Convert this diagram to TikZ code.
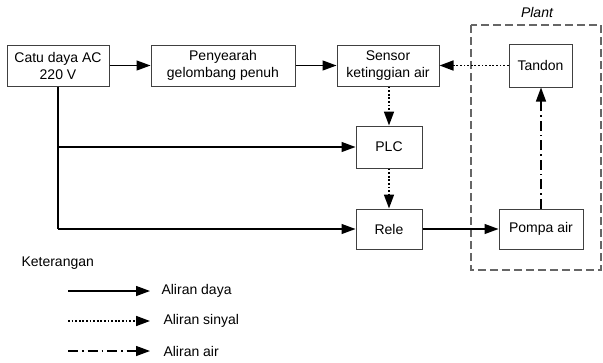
\documentclass[tikz,border=0pt]{standalone}
\usepackage{fontspec}
\setmainfont{Liberation Sans}
\usetikzlibrary{arrows.meta}
\tikzset{
  box/.style={draw=black!75, line width=1pt, align=center, inner sep=0pt},
  power/.style={line width=1.3pt, -{Triangle[length=14pt,width=10pt]}},
  signal/.style={power, line width=1.6pt, dash pattern=on 1.8pt off 1.8pt},
  water/.style={power, dash pattern=on 10pt off 4pt on 1.5pt off 4pt},
}
\begin{document}
\begin{tikzpicture}[x=1pt,y=-1pt,font=\fontsize{14}{17}\selectfont]
  \useasboundingbox (0,0) rectangle (603,362);
  % plant
  \draw[black!60, line width=1.3pt, dash pattern=on 8pt off 4pt] (471,25) rectangle (601,270);
  \node (plant) at (537,12) {\itshape Plant};
  % blocks
  \node[box, minimum width=102pt, minimum height=41pt] (catu) at (58,65.5) {Catu daya AC\\220 V};
  \node[box, minimum width=144pt, minimum height=41pt] (peny) at (223,65.5) {Penyearah\\gelombang penuh};
  \node[box, minimum width=102pt, minimum height=41pt] (sensor) at (388,65.5) {Sensor\\ketinggian air};
  \node[box, minimum width=63pt, minimum height=43pt] (tandon) at (540.5,65.5) {Tandon};
  \node[box, minimum width=66pt, minimum height=42pt] (plc) at (389,147) {PLC};
  \node[box, minimum width=66pt, minimum height=40pt] (rele) at (389,229) {Rele};
  \node[box, minimum width=84pt, minimum height=40pt] (pompa) at (541,229) {Pompa air};
  % connections
  \coordinate (bplc) at (58,147);
  \coordinate (brele) at (58,229);
  \draw[power] (catu) -- (peny);
  \draw[power] (peny) -- (sensor);
  \draw[signal] (tandon) -- (sensor);
  \draw[signal] (sensor.south -| plc) -- (plc);
  \draw[signal] (plc) -- (rele);
  \draw[line width=1.3pt] (catu.south) -- (brele);
  \draw[power] (bplc) -- (plc);
  \draw[power] (brele) -- (rele);
  \draw[power] (rele) -- (pompa);
  \draw[water] (pompa) -- (pompa |- tandon.south);
  % legend
  \node[anchor=west] (ket) at (18,263) {Keterangan};
  \coordinate (l1) at (68,291);
  \coordinate (l2) at (68,321);
  \coordinate (l3) at (68,351);
  \node[anchor=west] (t1) at (158,291) {Aliran daya};
  \node[anchor=west] (t2) at (160,321) {Aliran sinyal};
  \node[anchor=west] (t3) at (160,351) {Aliran air};
  \draw[power] (l1) -- (150,291);
  \draw[signal] (l2) -- (150,321);
  \draw[water] (l3) -- (150,351);
\end{tikzpicture}
\end{document}
